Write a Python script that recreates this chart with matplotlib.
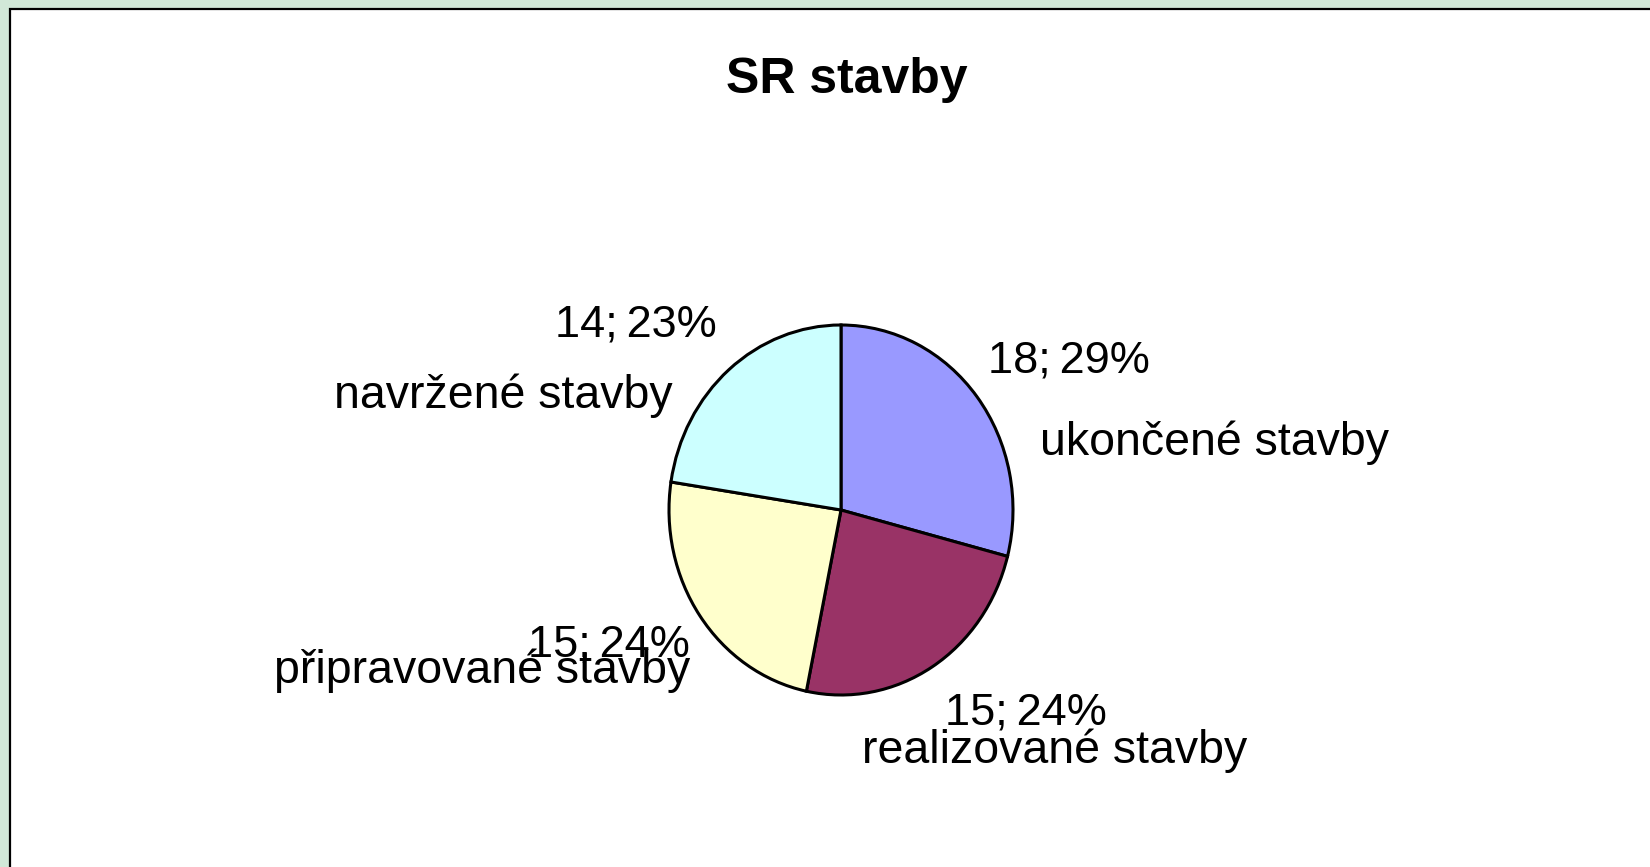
import matplotlib
matplotlib.use("Agg")
import matplotlib.pyplot as plt
from matplotlib.patches import Rectangle

categories = ["ukončené stavby", "realizované stavby", "připravované stavby", "navržené stavby"]
values = [18, 15, 15, 14]
percents = ["29%", "24%", "24%", "23%"]
colors = ["#9999FF", "#993366", "#FFFFCC", "#CCFFFF"]
title = "SR stavby"

W, H = 1650, 867
DPI = 100
plt.rcParams['font.family'] = ['Liberation Sans', 'DejaVu Sans']

fig = plt.figure(figsize=(W / DPI, H / DPI), dpi=DPI, facecolor="#D1E8D8")

def fx(x):
    return x / W

def fy(y):
    return 1 - y / H

# white chart area with black frame
fig.patches.append(Rectangle((fx(10), -0.1), 1.2, fy(9) + 0.1, transform=fig.transFigure,
                             facecolor="white", edgecolor="black", linewidth=1.6, zorder=-5))

# pie axes (slightly elliptical as in reference)
cx, cy, rx, ry = 841, 510, 172, 185
ax = fig.add_axes([fx(cx - rx), fy(cy + ry), 2 * rx / W, 2 * ry / H])
ax.set_zorder(5)
ax.pie(values, colors=colors, startangle=90, counterclock=False,
       wedgeprops=dict(edgecolor="black", linewidth=2.2))
ax.set_aspect('auto')
ax.set_xlim(-1, 1)
ax.set_ylim(-1, 1)
ax.axis('off')

fig.text(fx(847), fy(93), title, ha="center", va="baseline", fontsize=36, fontweight="bold")

fs = 33.5
val_labels = [f"{v};\u2009{p}" for v, p in zip(values, percents)]
# (x, baseline y, ha) for value label and category label
val_pos = [(988, 372, "left"), (945, 725, "left"), (690, 656, "right"), (717, 337, "right")]
cat_pos = [(1040, 455, "left"), (862, 763, "left"), (690, 683, "right"), (673, 408, "right")]
for lab, cat, (vx, vy, vha), (kx, ky, kha) in zip(val_labels, categories, val_pos, cat_pos):
    fig.text(fx(vx), fy(vy), lab, ha=vha, va="baseline", fontsize=fs - 1)
    fig.text(fx(kx), fy(ky), cat, ha=kha, va="baseline", fontsize=fs)

fig.savefig("out.png", dpi=DPI, facecolor=fig.get_facecolor())
